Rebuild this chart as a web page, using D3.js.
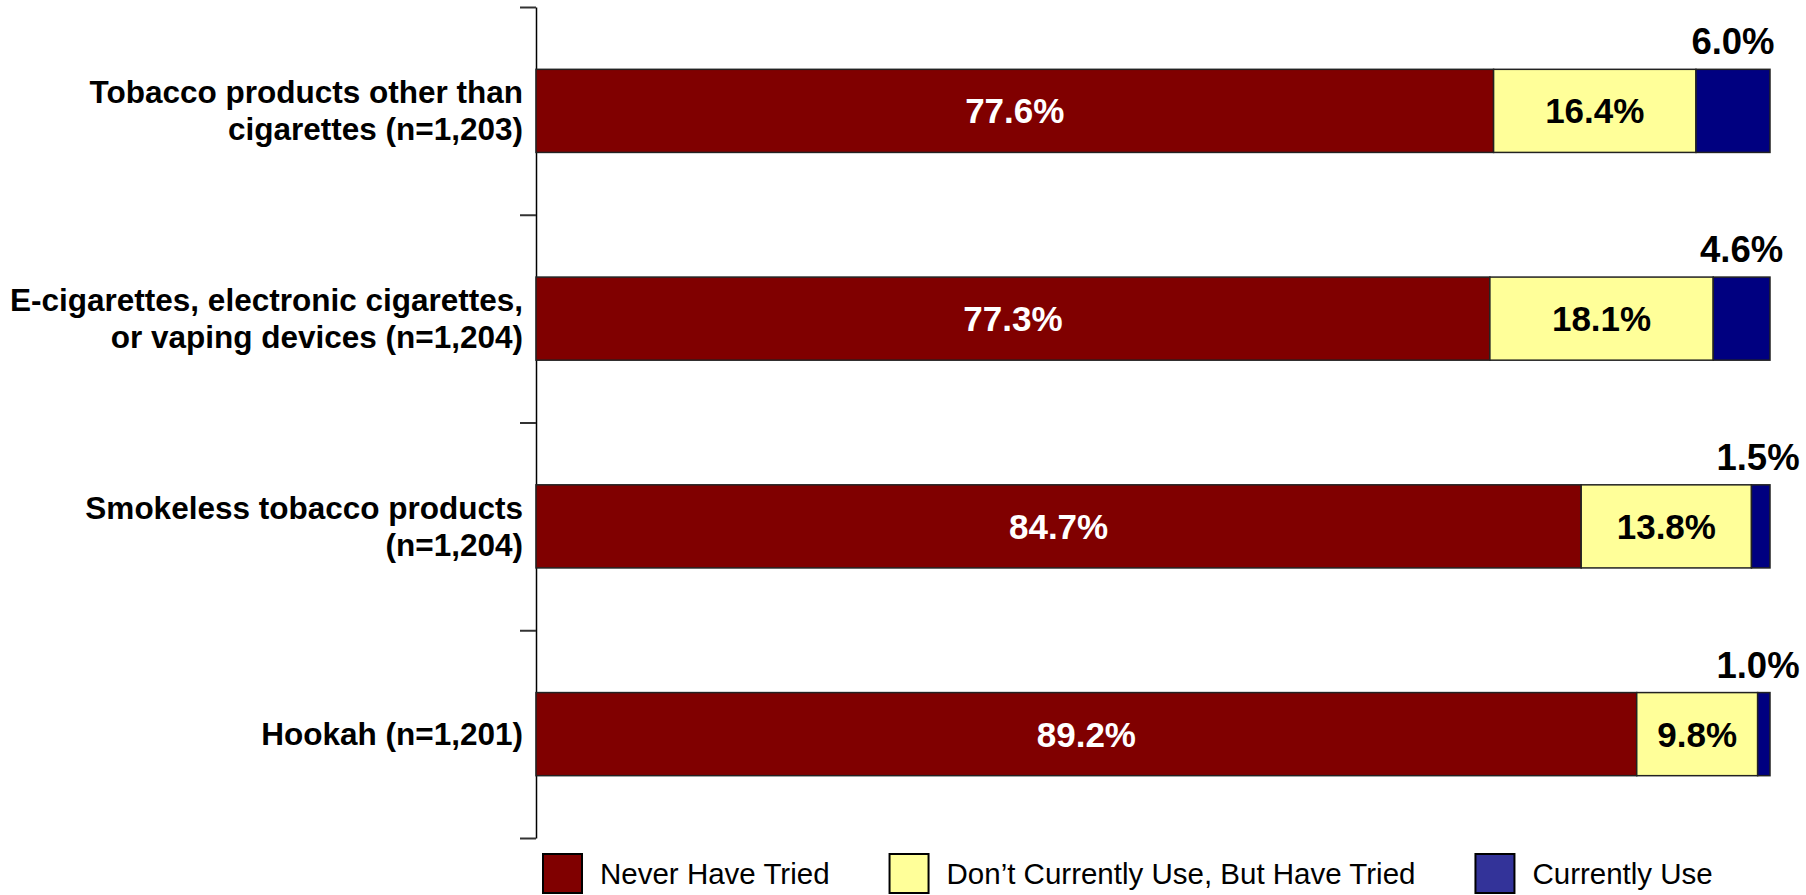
<!DOCTYPE html>
<html>
<head>
<meta charset="utf-8">
<script src="https://cdn.jsdelivr.net/npm/d3@7"></script>
<style>
  html, body { margin: 0; padding: 0; background: #fff; }
  svg { display: block; font-family: "Liberation Sans", Arial, sans-serif; }
</style>
</head>
<body>
<svg id="chart" width="1806" height="895"></svg>
<script>
// ---- data ----
const categories = [
  ["Tobacco products other than", "cigarettes (n=1,203)"],
  ["E-cigarettes, electronic cigarettes,", "or vaping devices (n=1,204)"],
  ["Smokeless tobacco products", "(n=1,204)"],
  ["Hookah (n=1,201)"]
];
const seriesNames = ["Never Have Tried", "Don\u2019t Currently Use, But Have Tried", "Currently Use"];
const neverTried = [77.6, 77.3, 84.7, 89.2];
const triedNotCurrent = [16.4, 18.1, 13.8, 9.8];
const currentlyUse = [6.0, 4.6, 1.5, 1.0];
const barColors = ["#800000", "#FFFF99", "#000080"];
const legendColors = ["#800000", "#FFFF99", "#333399"];
const labelColors = ["#ffffff", "#000000", "#000000"];

// ---- layout ----
const svg = d3.select("#chart");
const axisX = 536, plotRight = 1770, plotTop = 7, plotBottom = 838;
const keys = categories.map((c, i) => i);

const x = d3.scaleLinear().domain([0, 100]).range([axisX, plotRight]);
const y = d3.scaleBand().domain(keys).range([plotTop, plotBottom]).paddingInner(0.6).paddingOuter(0.3);
const yTicks = d3.scaleLinear().domain([0, categories.length]).range([plotTop, plotBottom]);

const rows = keys.map(i => [neverTried[i], triedNotCurrent[i], currentlyUse[i]]);

// axis
const axisG = svg.append("g").attr("transform", `translate(${axisX},0)`)
  .call(d3.axisLeft(yTicks).ticks(categories.length).tickFormat("").tickSize(16).tickSizeOuter(0));
axisG.select(".domain").attr("stroke", "#000").attr("stroke-width", 1.5);
axisG.selectAll(".tick line").attr("stroke", "#333").attr("stroke-width", 2);

// bars
const rowG = svg.selectAll("g.row").data(rows).join("g").attr("class", "row");
rowG.each(function (vals, i) {
  const g = d3.select(this);
  let cum = 0;
  const segs = vals.map((v, k) => { const s = { v, k, x0: cum, x1: cum + v }; cum += v; return s; });
  g.selectAll("rect").data(segs).join("rect")
    .attr("x", d => x(d.x0))
    .attr("y", y(i))
    .attr("width", d => x(d.x1) - x(d.x0))
    .attr("height", y.bandwidth())
    .attr("fill", d => barColors[d.k])
    .attr("stroke", "#222")
    .attr("stroke-width", 1.5);
  g.selectAll("text.val").data(segs).join("text")
    .attr("class", "val")
    .attr("x", d => Math.min((x(d.x0) + x(d.x1)) / 2, 1758))
    .attr("y", d => d.k < 2 ? y(i) + y.bandwidth() / 2 : y(i) - 15)
    .attr("dy", d => d.k < 2 ? "0.36em" : 0)
    .attr("text-anchor", "middle")
    .attr("font-size", d => d.k < 2 ? 35 : 36.5)
    .attr("font-weight", "bold")
    .attr("fill", d => labelColors[d.k])
    .text(d => d.v.toFixed(1) + "%");
});

// category labels
const lh = 37;
categories.forEach((lines, i) => {
  const cy = y(i) + y.bandwidth() / 2;
  const t = svg.append("text")
    .attr("text-anchor", "end")
    .attr("font-size", 31.5)
    .attr("font-weight", "bold")
    .attr("fill", "#000");
  lines.forEach((ln, j) => {
    t.append("tspan")
      .attr("x", 523)
      .attr("y", cy + (j - (lines.length - 1) / 2) * lh)
      .attr("dy", "0.35em")
      .text(ln);
  });
});

// legend
const legend = svg.append("g");
let lx = 543;
const ly = 854, sw = 39;
seriesNames.forEach((name, k) => {
  legend.append("rect")
    .attr("x", lx).attr("y", ly).attr("width", sw).attr("height", sw)
    .attr("fill", legendColors[k]).attr("stroke", "#000").attr("stroke-width", 2);
  const t = legend.append("text")
    .attr("x", lx + 57).attr("y", ly + sw / 2).attr("dy", "0.36em")
    .attr("font-size", 29.5).attr("fill", "#000").text(name);
  lx = lx + 57 + t.node().getComputedTextLength() + 60;
});
</script>
</body>
</html>
